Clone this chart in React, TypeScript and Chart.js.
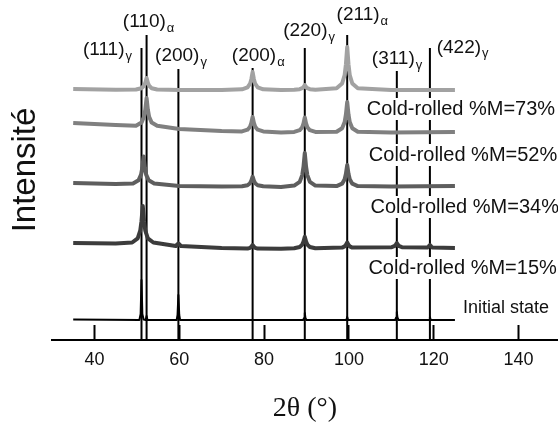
import React, { useEffect, useRef } from 'react';
import { Chart, registerables } from 'chart.js';
Chart.register(...registerables);

// ---- data ----
const xTicks = [40, 60, 80, 100, 120, 140];

const refPositions = [51.1, 52.3, 59.8, 77.3, 89.6, 99.6, 111.3, 119.1];
const refTops = [292, 305, 271, 272, 292, 305, 269, 292];
const refMain = ['(111)', '(110)', '(200)', '(200)', '(220)', '(211)', '(311)', '(422)'];
const refSub = ['γ', 'α', 'γ', 'α', 'γ', 'α', 'γ', 'γ'];
const refLabelX = [37.3, 46.7, 54.3, 72.4, 84.5, 97.1, 105.4, 120.7];
const refLabelY = [290, 318, 284, 284, 309, 325, 281, 292.5];

const sampleNames = ['Cold-rolled %M=73%', 'Cold-rolled %M=52%', 'Cold-rolled %M=34%', 'Cold-rolled %M=15%', 'Initial state'];
const sampleLabelX = [104.2, 104.7, 105.1, 104.6, 126.9];
const sampleLabelY = [231, 185, 133, 72, 32];

const pattern73: [number, number][] = [
  [35,251],[45,250.2],
  [49.8,250.5],[51.1,251.8],[51.7,254.2],[52.0,257.2],[52.3,262],[52.6,257.2],[52.9,254.2],[53.5,251.8],[54.8,250.5],
  [60,250],[70,250],
  [74.8,250.7],[76.1,252.7],[76.7,256.3],[77.0,260.8],[77.3,268],[77.6,260.8],[77.9,256.3],[78.5,252.7],[79.8,250.7],
  [84,250],
  [87.1,250.2],[88.4,250.8],[89.0,251.8],[89.3,253],[89.6,255],[89.9,253],[90.2,251.8],[90.8,250.8],[92.1,250.2],
  [97.1,251.7],[98.4,256.5],[99.0,265],[99.3,275.8],[99.6,293],[99.9,275.8],[100.2,265],[100.8,256.5],[102.1,251.7],
  [110,250],[125,250],
];
const pattern52: [number, number][] = [
  [35,217],[45,215],
  [49.8,214.2],[51.1,217.4],[51.7,223.2],[52.0,230.4],[52.3,242],[52.6,230.4],[52.9,223.2],[53.5,217.4],[54.8,214.2],
  [60,211],[70,209],
  [74.8,208.6],[76.1,210.3],[76.7,213.3],[77.0,217],[77.3,223],[77.6,217],[77.9,213.3],[78.5,210.3],[79.8,208.6],
  [84,207.5],
  [87.1,208.1],[88.4,209.8],[89.0,212.8],[89.3,216.5],[89.6,222.5],[89.9,216.5],[90.2,212.8],[90.8,209.8],[92.1,208.1],
  [97.1,208.2],[98.4,211.7],[99.0,217.9],[99.3,225.6],[99.6,238],[99.9,225.6],[100.2,217.9],[100.8,211.7],[102.1,208.2],
  [110,207.5],[125,208],
];
const pattern34: [number, number][] = [
  [35,157],[45,156],
  [49.1,156.6],[50.4,159.7],[51.0,165.3],[51.3,172.3],[51.6,183.5],[51.9,172.3],[52.2,165.3],[52.8,159.7],[54.1,156.6],
  [60,154],[70,153.5],
  [74.8,153.7],[76.1,154.8],[76.7,156.8],[77.0,159.3],[77.3,163.3],[77.6,159.3],[77.9,156.8],[78.5,154.8],[79.8,153.7],
  [84,153],
  [87.1,154.4],[88.4,158.1],[89.0,164.9],[89.3,173.4],[89.6,187],[89.9,173.4],[90.2,164.9],[90.8,158.1],[92.1,154.4],
  [97.1,153.9],[98.4,156.3],[99.0,160.7],[99.3,166.2],[99.6,175],[99.9,166.2],[100.2,160.7],[100.8,156.3],[102.1,153.9],
  [110,153.5],[125,154],
];
const pattern15: [number, number][] = [
  [35,97],[45,96.5],
  [48.9,97.5],[50.2,101.7],[50.8,109.3],[51.1,118.8],[51.4,134],[51.7,118.8],[52.0,109.3],[52.6,101.7],[53.9,97.5],
  [59.2,94],[59.8,96.5],[60.4,94],
  [70,92],
  [76.1,91.4],[76.7,92.2],[77.0,93.3],[77.3,95],[77.6,93.3],[77.9,92.2],[78.5,91.4],
  [84,91.2],
  [87.1,91.7],[88.4,93],[89.0,95.4],[89.3,98.4],[89.6,103.2],[89.9,98.4],[90.2,95.4],[90.8,93],[92.1,91.7],
  [98.4,92.4],[99.0,93.6],[99.3,95.1],[99.6,97.5],[99.9,95.1],[100.2,93.6],[100.8,92.4],
  [110.1,92.8],[110.7,93.8],[111.0,95],[111.3,97],[111.6,95],[111.9,93.8],[112.5,92.8],
  [118.5,92.4],[118.8,93.6],[119.1,95],[119.4,93.6],[119.7,92.4],
  [125,92],
];
const patternInitial: [number, number][] = [
  [35,20.5],[50.6,20],[50.9,26],[51.1,60],[51.3,26],[51.6,20.5],[52.1,20],[52.3,24],[52.5,20],
  [59.4,20],[59.6,25],[59.8,45],[60.0,25],[60.2,20],[77,20],
  [89.2,20],[89.45,22],[89.6,27],[89.75,22],[90.0,20],
  [99.4,20],[99.6,23],[99.8,20],
  [110.9,20],[111.15,22.5],[111.3,28],[111.45,22.5],[111.7,20],
  [118.9,20],[119.1,23],[119.3,20],[125,20],
];

const patterns = [pattern73, pattern52, pattern34, pattern15, patternInitial];
const patternColors = ['#a2a2a2', '#808080', '#5e5e5e', '#3c3c3c', '#000000'];
const patternWidths = [4, 4, 4, 4, 2];

const SANS = '"Liberation Sans", Arial, sans-serif';

const labelPlugin = {
  id: 'xrdLabels',
  afterDatasetsDraw(chart: any) {
    const { ctx, scales } = chart;
    const x = scales.x;
    const y = scales.y;
    ctx.save();
    ctx.textBaseline = 'middle';
    ctx.textAlign = 'left';
    refMain.forEach((t, i) => {
      const px = x.getPixelForValue(refLabelX[i]);
      const py = y.getPixelForValue(refLabelY[i]);
      ctx.fillStyle = '#111';
      ctx.font = '19px ' + SANS;
      ctx.fillText(t, px, py);
      const w = ctx.measureText(t).width;
      ctx.font = '13px ' + SANS;
      ctx.fillText(refSub[i], px + w + 1, py + 6);
    });
    sampleNames.forEach((t, i) => {
      const px = x.getPixelForValue(sampleLabelX[i]);
      const py = y.getPixelForValue(sampleLabelY[i]);
      ctx.font = (i === 4 ? '18px ' : '20px ') + SANS;
      const w = ctx.measureText(t).width;
      ctx.fillStyle = '#fff';
      ctx.fillRect(px - 2, py - 11, w + 4, 22);
      ctx.fillStyle = '#111';
      ctx.fillText(t, px, py);
    });
    ctx.restore();
  },
};

export default function App() {
  const canvasRef = useRef<HTMLCanvasElement | null>(null);
  useEffect(() => {
    if (!canvasRef.current) return;
    const datasets: any[] = [];
    patterns.forEach((p, i) => {
      datasets.push({
        label: sampleNames[i],
        data: p.map(([a, b]) => ({ x: a, y: b })),
        borderColor: patternColors[i],
        borderWidth: patternWidths[i],
        borderJoinStyle: 'round',
        pointRadius: 0,
        tension: 0,
        fill: false,
        order: 1,
      });
    });
    refPositions.forEach((pos, i) => {
      datasets.push({
        label: refMain[i] + refSub[i],
        data: [{ x: pos, y: 0 }, { x: pos, y: refTops[i] }],
        borderColor: '#000',
        borderWidth: 2,
        pointRadius: 0,
        fill: false,
        order: 2,
      });
    });
    const chart = new Chart(canvasRef.current, {
      type: 'line',
      data: { datasets },
      options: {
        animation: false,
        responsive: true,
        maintainAspectRatio: false,
        layout: { padding: 0 },
        plugins: { legend: { display: false }, tooltip: { enabled: false } },
        scales: {
          x: {
            type: 'linear',
            min: 30,
            max: 149.3,
            afterBuildTicks: (s: any) => {
              s.ticks = xTicks.map((v) => ({ value: v }));
            },
            ticks: {
              color: '#111',
              font: { family: SANS, size: 18 },
              padding: 24.2,
              maxRotation: 0,
              callback: (v: any) => String(v),
            },
            grid: {
              display: true,
              drawOnChartArea: false,
              drawTicks: true,
              tickLength: -15,
              tickWidth: 2,
              tickColor: '#000',
            },
            border: { display: true, color: '#000', width: 2 },
            title: {
              display: true,
              text: '2θ (°)',
              color: '#111',
              font: { family: '"Liberation Serif", "Times New Roman", serif', size: 28, lineHeight: 1 },
              padding: { top: 0, bottom: 6 },
            },
          },
          y: {
            type: 'linear',
            min: 0,
            max: 340,
            ticks: { display: false },
            grid: { display: false, drawTicks: false },
            border: { display: false },
            title: {
              display: true,
              text: 'Intensité',
              color: '#111',
              font: { family: SANS, size: 33 },
              padding: { top: 6, bottom: 6.4 },
            },
          },
        },
      },
      plugins: [labelPlugin],
    });
    return () => chart.destroy();
  }, []);
  return (
    <div style={{ position: 'fixed', left: 0, top: 0, width: 558, height: 429, background: '#fff' }}>
      <canvas ref={canvasRef} />
    </div>
  );
}
